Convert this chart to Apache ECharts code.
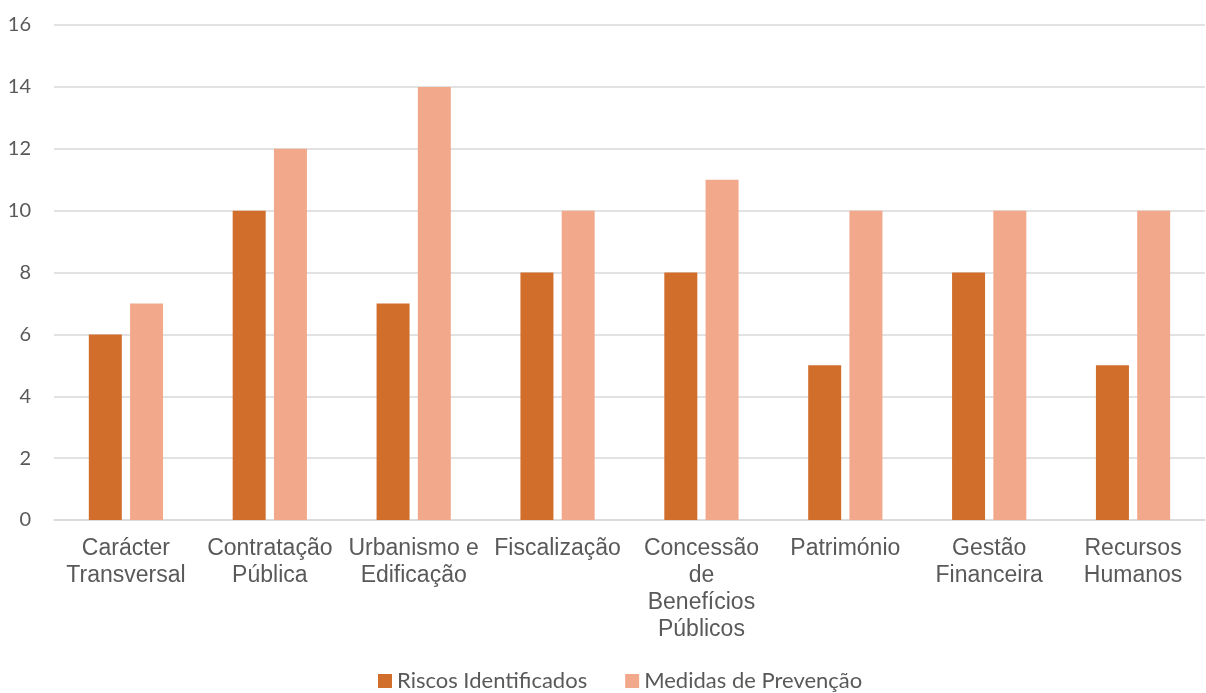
<!DOCTYPE html>
<html><head><meta charset="utf-8">
<script src="https://cdn.jsdelivr.net/npm/echarts@6/dist/echarts.min.js"></script>
<style>html,body{margin:0;padding:0;background:#fff}#c{width:1206px;height:693px}</style>
</head><body><div id="c"></div>
<script>
const categories = ["Carácter\nTransversal", "Contratação\nPública", "Urbanismo e\nEdificação", "Fiscalização", "Concessão\nde\nBenefícios\nPúblicos", "Património", "Gestão\nFinanceira", "Recursos\nHumanos"];
const riscos = [6, 10, 7, 8, 8, 5, 8, 5];
const medidas = [7, 12, 14, 10, 11, 10, 10, 10];
const yTicks = { min: 0, max: 16, interval: 2 };

const chart = echarts.init(document.getElementById('c'));
chart.setOption({
  animation: false,
  grid: { left: 54, right: 1, top: 25, bottom: 173 },
  legend: {
    top: 670, left: 378, itemWidth: 14, itemHeight: 14, itemGap: 38, padding: 0,
    icon: 'rect',
    textStyle: { fontFamily: 'Lato', fontSize: 22, color: '#595959' },
    data: ['Riscos Identificados', 'Medidas de Prevenção']
  },
  xAxis: {
    type: 'category', data: categories,
    axisLine: { lineStyle: { color: '#D9D9D9', width: 1.5 } },
    axisTick: { show: false },
    axisLabel: { fontFamily: "'Liberation Sans', Arial, sans-serif", fontSize: 23, color: '#595959', lineHeight: 27, margin: 15, interval: 0 }
  },
  yAxis: {
    type: 'value', min: yTicks.min, max: yTicks.max, interval: yTicks.interval,
    axisLine: { show: false }, axisTick: { show: false },
    splitLine: { lineStyle: { color: '#D9D9D9', width: 1.5 } },
    axisLabel: { fontFamily: 'Lato', fontSize: 20, color: '#595959', margin: 23 }
  },
  series: [
    { name: 'Riscos Identificados', type: 'bar', data: riscos, barWidth: 33, barGap: '25%', itemStyle: { color: '#D26E2B' } },
    { name: 'Medidas de Prevenção', type: 'bar', data: medidas, barWidth: 33, barGap: '25%', itemStyle: { color: '#F2A98B' } }
  ]
});
</script></body></html>
